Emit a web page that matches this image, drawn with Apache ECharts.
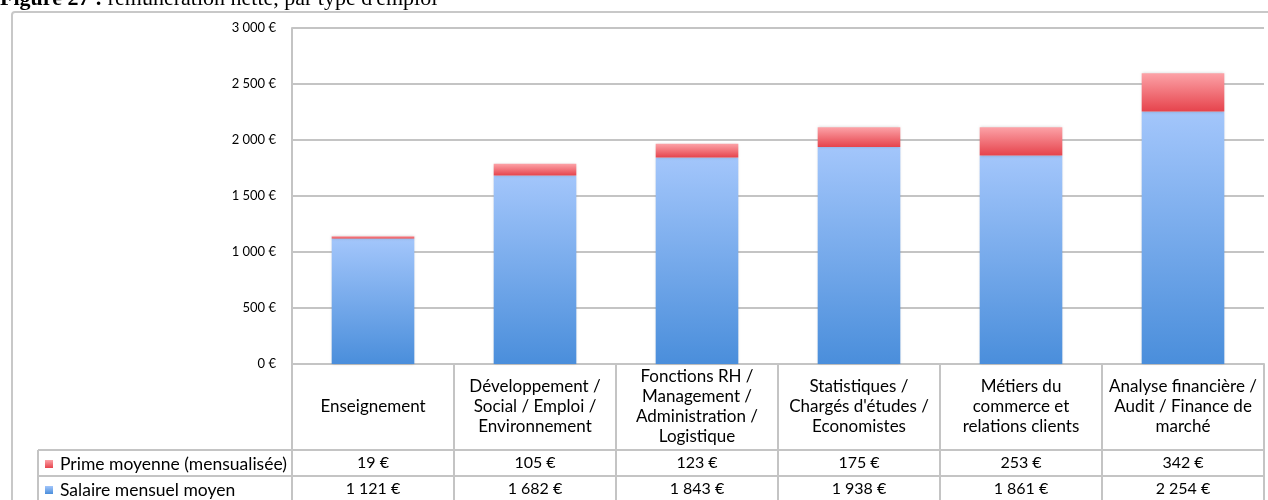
<!DOCTYPE html>
<html>
<head>
<meta charset="utf-8">
<script src="https://cdn.jsdelivr.net/npm/echarts@6/dist/echarts.min.js"></script>
<style>
html,body{margin:0;padding:0;background:#fff;}
#c{width:1268px;height:500px;}
</style>
</head>
<body>
<div id="c"></div>
<script>
const categories = [
  'Enseignement',
  'Développement /\nSocial / Emploi /\nEnvironnement',
  'Fonctions RH /\nManagement /\nAdministration /\nLogistique',
  'Statistiques /\nChargés d\'études /\nEconomistes',
  'Métiers du\ncommerce et\nrelations clients',
  'Analyse financière /\nAudit / Finance de\nmarché'
];
const seriesNames = ['Prime moyenne (mensualisée)', 'Salaire mensuel moyen'];
const prime = [19, 105, 123, 175, 253, 342];
const salaire = [1121, 1682, 1843, 1938, 1861, 2254];
const yMin = 0, yMax = 3000, yStep = 500;
const titleBold = 'Figure 27 :';
const titleRest = ' rémunération nette, par type d\'emploi';

function euro(v) {
  return String(v).replace(/\B(?=(\d{3})+(?!\d))/g, '\u202F') + ' €';
}

const FONT = 'Lato';
const GRID_L = 292, GRID_T = 28, GRID_R = 4, GRID_B = 136;
const lineCol = '#c4c4c4';

const chart = echarts.init(document.getElementById('c'), null, {renderer: 'canvas'});

const blueGrad = new echarts.graphic.LinearGradient(0, 0, 0, 1, [
  {offset: 0, color: '#a3c6fb'}, {offset: 1, color: '#4a8edb'}
]);
const redGrad = new echarts.graphic.LinearGradient(0, 0, 0, 1, [
  {offset: 0, color: '#fca2a7'}, {offset: 1, color: '#e6434c'}
]);

const hiddenAxis = (vals, margin) => ({
  type: 'category', data: categories, position: 'bottom',
  axisLine: {show: false}, axisTick: {show: false}, splitLine: {show: false},
  axisLabel: {
    interval: 0, margin: margin, verticalAlign: 'middle',
    fontFamily: FONT, fontSize: 16, color: '#000',
    formatter: (v, i) => euro(vals[i])
  }
});

chart.setOption({
  animation: false,
  backgroundColor: '#fff',
  grid: {left: GRID_L, top: GRID_T, right: GRID_R, bottom: GRID_B, containLabel: false},
  legend: {
    data: seriesNames, orient: 'vertical', left: 45, top: 455, height: 60, padding: 0,
    itemWidth: 8, itemHeight: 8, itemGap: 8, icon: 'rect',
    textStyle: {fontFamily: FONT, fontSize: 17.5, color: '#000', lineHeight: 18, padding: [0, 0, 0, 2]},
    selectedMode: false
  },
  xAxis: [
    {
      type: 'category', data: categories, position: 'bottom',
      axisLine: {show: true, lineStyle: {color: lineCol, width: 2}},
      axisTick: {show: true, interval: 0, length: GRID_B + 4, lineStyle: {color: lineCol, width: 2}},
      axisLabel: {
        interval: 0, margin: 43, verticalAlign: 'middle', align: 'center',
        fontFamily: FONT, fontSize: 17, lineHeight: 20, color: '#000'
      }
    },
    hiddenAxis(prime, 99),
    hiddenAxis(salaire, 125)
  ],
  yAxis: {
    type: 'value', min: yMin, max: yMax, interval: yStep,
    axisLine: {show: true, lineStyle: {color: lineCol, width: 2}},
    axisTick: {show: false},
    splitLine: {lineStyle: {color: lineCol, width: 2}},
    axisLabel: {formatter: euro, fontFamily: FONT, fontSize: 13, color: '#000', margin: 16}
  },
  series: [
    {
      name: seriesNames[1], type: 'bar', stack: 'tot', data: salaire, barWidth: '51%',
      itemStyle: {color: blueGrad, shadowColor: 'rgba(0,0,0,0.18)', shadowBlur: 3}
    },
    {
      name: seriesNames[0], type: 'bar', stack: 'tot', data: prime, barWidth: '51%',
      itemStyle: {color: redGrad, shadowColor: 'rgba(0,0,0,0.18)', shadowBlur: 3}
    }
  ],
  graphic: [
    {type: 'rect', shape: {x: 12, y: 12, width: 1300, height: 600, r: 3},
     style: {fill: null, stroke: '#c8c8c8', lineWidth: 2}, z: -1},
    {type: 'line', shape: {x1: 38, y1: 450, x2: 1264, y2: 450}, style: {stroke: lineCol, lineWidth: 2}},
    {type: 'line', shape: {x1: 38, y1: 476, x2: 1264, y2: 476}, style: {stroke: lineCol, lineWidth: 2}},
    {type: 'line', shape: {x1: 38, y1: 450, x2: 38, y2: 510}, style: {stroke: lineCol, lineWidth: 2}},
    {type: 'text', x: 0, y: 10, style: {
      text: '{b|' + titleBold + '}{n|' + titleRest + '}',
      verticalAlign: 'bottom',
      rich: {
        b: {fontFamily: 'Liberation Serif', fontWeight: 'bold', fontSize: 22, fill: '#000'},
        n: {fontFamily: 'Liberation Serif', fontSize: 22, fill: '#000'}
      }
    }}
  ]
});
</script>
</body>
</html>
